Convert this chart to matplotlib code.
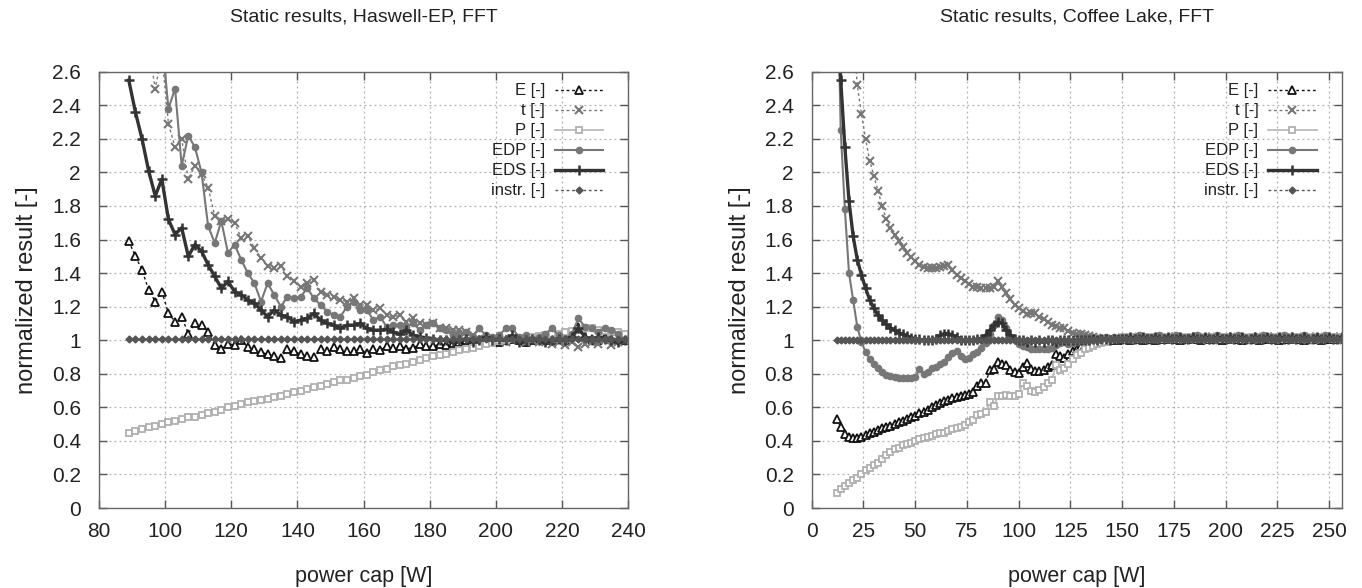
import numpy as np
import matplotlib
matplotlib.use("Agg")
import matplotlib.pyplot as plt

# ---------------- data: left panel (Haswell-EP), power cap 89..239 W, step 2 ----------------
x_left = np.arange(89, 241, 2)

E_left = [1.59, 1.50, 1.42, 1.30, 1.23, 1.29, 1.16, 1.11, 1.14, 1.04,
          1.10, 1.09, 1.05, 0.97, 0.95, 0.98, 0.97, 1.00, 0.96, 0.95,
          0.93, 0.915, 0.905, 0.895, 0.95, 0.935, 0.915, 0.905, 0.90, 0.945,
          0.935, 0.96, 0.945, 0.935, 0.935, 0.945, 0.925, 0.95, 0.94, 0.964,
          0.955, 0.964, 0.95, 0.955, 0.975, 0.965, 0.965, 0.975, 0.97, 0.985,
          0.99, 1.00, 0.99, 1.00, 1.00, 1.00, 0.99, 1.00, 1.01, 1.00,
          0.99, 1.00, 1.01, 1.00, 1.00, 1.01, 1.00, 1.03, 1.08, 1.02,
          1.01, 1.00, 1.02, 1.01, 1.00, 1.00]
t_left = [3.60, 3.30, 3.00, 2.75, 2.50, 2.70, 2.29, 2.15, 2.20, 1.96,
          2.04, 1.99, 1.91, 1.74, 1.71, 1.72, 1.70, 1.61, 1.62, 1.55,
          1.49, 1.44, 1.43, 1.44, 1.38, 1.35, 1.32, 1.34, 1.36, 1.29,
          1.27, 1.26, 1.24, 1.23, 1.25, 1.21, 1.21, 1.18, 1.19, 1.15,
          1.14, 1.15, 1.11, 1.13, 1.10, 1.09, 1.10, 1.07, 1.07, 1.06,
          1.06, 1.05, 1.03, 1.01, 1.00, 1.01, 1.00, 0.99, 1.00, 1.01,
          0.99, 1.00, 0.99, 1.00, 0.98, 0.99, 0.97, 0.99, 0.96, 0.98,
          0.99, 0.98, 1.00, 0.97, 0.99, 1.00]
P_left = [0.45, 0.46, 0.47, 0.48, 0.49, 0.50, 0.51, 0.52, 0.53, 0.54,
          0.545, 0.555, 0.565, 0.575, 0.585, 0.60, 0.61, 0.62, 0.63, 0.64,
          0.645, 0.65, 0.66, 0.67, 0.68, 0.69, 0.70, 0.71, 0.72, 0.73,
          0.74, 0.75, 0.76, 0.765, 0.775, 0.785, 0.795, 0.81, 0.82, 0.83,
          0.845, 0.855, 0.86, 0.87, 0.885, 0.895, 0.905, 0.91, 0.92, 0.93,
          0.94, 0.945, 0.955, 0.965, 0.975, 0.985, 0.995, 1.00, 1.005, 1.01,
          1.015, 1.02, 1.025, 1.03, 1.035, 1.04, 1.05, 1.055, 1.06, 1.07,
          1.07, 1.06, 1.055, 1.05, 1.05, 1.04]
EDP_left = [3.60, 3.40, 3.20, 3.00, 2.90, 2.80, 2.38, 2.50, 2.04, 2.22,
            2.15, 2.00, 1.68, 1.58, 1.71, 1.52, 1.57, 1.48, 1.40, 1.34,
            1.23, 1.34, 1.27, 1.20, 1.26, 1.25, 1.26, 1.31, 1.25, 1.21,
            1.17, 1.15, 1.14, 1.20, 1.23, 1.18, 1.18, 1.12, 1.14, 1.08,
            1.09, 1.09, 1.08, 1.10, 1.06, 1.09, 1.10, 1.07, 1.06, 1.03,
            1.04, 1.05, 1.02, 1.07, 1.03, 1.02, 1.03, 1.07, 1.07, 1.02,
            1.03, 1.01, 1.02, 1.04, 1.07, 1.03, 1.01, 1.04, 1.13, 1.08,
            1.07, 1.05, 1.07, 1.06, 1.04, 1.00]
EDS_left = [2.55, 2.36, 2.20, 2.01, 1.86, 1.96, 1.72, 1.63, 1.67, 1.50,
            1.57, 1.53, 1.45, 1.38, 1.31, 1.35, 1.29, 1.27, 1.24, 1.22,
            1.18, 1.14, 1.18, 1.15, 1.14, 1.11, 1.12, 1.13, 1.16, 1.12,
            1.10, 1.09, 1.07, 1.09, 1.09, 1.10, 1.07, 1.06, 1.06, 1.065,
            1.05, 1.035, 1.06, 1.03, 1.02, 1.015, 1.01, 1.00, 1.00, 0.99,
            1.00, 1.01, 0.99, 1.00, 1.02, 1.00, 1.01, 1.00, 1.03, 0.99,
            1.00, 1.01, 1.00, 0.99, 1.00, 1.01, 1.00, 1.02, 1.07, 1.02,
            1.00, 1.02, 1.01, 1.00, 0.99, 1.00]
instr_left = [1.01, 1.01, 1.01, 1.01, 1.01, 1.01, 1.01, 1.01, 1.01, 1.01,
              1.01, 1.01, 1.01, 1.01, 1.01, 1.01, 1.01, 1.01, 1.01, 1.01,
              1.01, 1.01, 1.01, 1.01, 1.01, 1.01, 1.01, 1.01, 1.01, 1.01,
              1.01, 1.01, 1.01, 1.01, 1.01, 1.01, 1.01, 1.01, 1.01, 1.01,
              1.01, 1.01, 1.01, 1.01, 1.01, 1.01, 1.01, 1.01, 1.01, 1.01,
              1.01, 1.01, 1.01, 1.01, 1.01, 1.01, 1.01, 1.01, 1.01, 1.01,
              1.01, 1.01, 1.01, 1.01, 1.01, 1.01, 1.01, 1.01, 1.01, 1.01,
              1.01, 1.01, 1.01, 1.01, 1.01, 1.01]

# ---------------- data: right panel (Coffee Lake), power cap 12..256 W, step 2 ----------------
x_right = np.arange(12, 258, 2)

E_right = [0.53, 0.48, 0.44, 0.425, 0.42, 0.42, 0.425, 0.435, 0.445, 0.455,
           0.465, 0.475, 0.482, 0.49, 0.50, 0.513, 0.52, 0.53, 0.54, 0.55,
           0.565, 0.575, 0.585, 0.60, 0.612, 0.623, 0.635, 0.645, 0.655, 0.66,
           0.667, 0.675, 0.68, 0.69, 0.73, 0.745, 0.745, 0.82, 0.83, 0.87,
           0.86, 0.85, 0.82, 0.81, 0.805, 0.84, 0.865, 0.83, 0.815, 0.815,
           0.825, 0.84, 0.855, 0.915, 0.905, 0.895, 0.92, 0.935, 0.95, 0.965,
           0.97, 0.98, 0.985, 0.99, 1.00, 1.00, 1.00, 1.01, 1.00, 1.01,
           1.01, 1.00, 1.01, 1.02, 1.00, 1.01, 1.01, 1.00, 1.02, 1.01,
           1.01, 1.02, 1.01, 1.00, 1.01, 1.01, 1.02, 1.01, 1.00, 1.01,
           1.02, 1.01, 1.01, 1.00, 1.01, 1.02, 1.01, 1.01, 1.00, 1.01,
           1.01, 1.02, 1.00, 1.01, 1.01, 1.02, 1.01, 1.00, 1.01, 1.01,
           1.02, 1.01, 1.01, 1.00, 1.01, 1.02, 1.01, 1.00, 1.01, 1.01,
           1.01, 1.02, 1.01]
t_right = [4.60, 4.10, 3.60, 3.20, 2.85, 2.52, 2.35, 2.20, 2.07, 1.98,
           1.89, 1.80, 1.72, 1.67, 1.63, 1.59, 1.555, 1.52, 1.495, 1.475,
           1.45, 1.435, 1.43, 1.43, 1.43, 1.435, 1.44, 1.45, 1.42, 1.39,
           1.37, 1.35, 1.335, 1.32, 1.315, 1.31, 1.31, 1.31, 1.315, 1.355,
           1.32, 1.28, 1.245, 1.21, 1.19, 1.175, 1.155, 1.165, 1.16, 1.14,
           1.125, 1.11, 1.09, 1.085, 1.075, 1.07, 1.055, 1.045, 1.04, 1.035,
           1.03, 1.025, 1.02, 1.015, 1.01, 1.01, 1.005, 1.00, 1.01, 1.00,
           1.01, 1.00, 1.01, 1.02, 1.00, 1.01, 1.01, 1.00, 1.02, 1.01,
           1.00, 1.01, 1.02, 1.01, 1.00, 1.01, 1.01, 1.02, 1.00, 1.01,
           1.01, 1.00, 1.02, 1.01, 1.01, 1.00, 1.01, 1.02, 1.01, 1.00,
           1.01, 1.01, 1.00, 1.02, 1.01, 1.01, 1.00, 1.01, 1.02, 1.01,
           1.00, 1.01, 1.01, 1.02, 1.00, 1.01, 1.01, 1.00, 1.02, 1.01,
           1.01, 1.00, 1.01]
P_right = [0.09, 0.115, 0.13, 0.15, 0.165, 0.18, 0.20, 0.225, 0.24, 0.255,
           0.27, 0.295, 0.315, 0.335, 0.35, 0.36, 0.375, 0.38, 0.39, 0.40,
           0.41, 0.415, 0.425, 0.43, 0.44, 0.445, 0.45, 0.46, 0.47, 0.475,
           0.485, 0.495, 0.51, 0.525, 0.555, 0.56, 0.57, 0.63, 0.61, 0.665,
           0.67, 0.675, 0.67, 0.665, 0.68, 0.745, 0.73, 0.70, 0.69, 0.705,
           0.72, 0.745, 0.765, 0.85, 0.82, 0.835, 0.86, 0.89, 0.91, 0.925,
           0.945, 0.955, 0.965, 0.975, 0.985, 0.99, 1.00, 1.01, 1.01, 1.02,
           1.01, 1.02, 1.02, 1.01, 1.02, 1.02, 1.01, 1.02, 1.02, 1.01,
           1.02, 1.01, 1.02, 1.02, 1.01, 1.02, 1.02, 1.01, 1.02, 1.02,
           1.01, 1.02, 1.02, 1.01, 1.02, 1.02, 1.01, 1.02, 1.02, 1.01,
           1.02, 1.02, 1.01, 1.02, 1.02, 1.01, 1.02, 1.02, 1.01, 1.02,
           1.02, 1.01, 1.02, 1.02, 1.01, 1.02, 1.02, 1.01, 1.02, 1.02,
           1.01, 1.02, 1.02]
EDP_right = [3.40, 2.25, 1.78, 1.40, 1.24, 1.08, 0.99, 0.93, 0.89, 0.86,
             0.835, 0.81, 0.795, 0.785, 0.78, 0.775, 0.775, 0.772, 0.776, 0.78,
             0.83, 0.80, 0.81, 0.835, 0.84, 0.86, 0.87, 0.90, 0.925, 0.935,
             0.905, 0.89, 0.895, 0.915, 0.93, 0.955, 0.985, 1.04, 1.09, 1.14,
             1.12, 1.07, 1.02, 1.00, 0.975, 0.965, 0.96, 0.95, 0.945, 0.945,
             0.945, 0.95, 0.955, 0.97, 0.985, 0.99, 0.98, 0.985, 0.99, 0.995,
             1.00, 1.00, 1.01, 1.00, 1.01, 1.02, 1.01, 1.02, 1.01, 1.02,
             1.02, 1.01, 1.02, 1.03, 1.01, 1.02, 1.02, 1.01, 1.03, 1.02,
             1.01, 1.02, 1.03, 1.02, 1.01, 1.02, 1.02, 1.03, 1.01, 1.02,
             1.02, 1.01, 1.03, 1.02, 1.02, 1.01, 1.02, 1.03, 1.02, 1.01,
             1.02, 1.02, 1.01, 1.03, 1.02, 1.02, 1.01, 1.02, 1.03, 1.02,
             1.01, 1.02, 1.02, 1.03, 1.01, 1.02, 1.02, 1.01, 1.03, 1.02,
             1.02, 1.01, 1.02]
EDS_right = [3.00, 2.55, 2.15, 1.83, 1.62, 1.48, 1.39, 1.31, 1.24, 1.19,
             1.15, 1.12, 1.095, 1.075, 1.06, 1.045, 1.035, 1.025, 1.015, 1.01,
             1.005, 1.00, 1.00, 1.00, 1.01, 1.03, 1.04, 1.04, 1.03, 1.02,
             1.00, 1.00, 1.00, 1.00, 1.01, 1.01, 1.03, 1.06, 1.09, 1.11,
             1.10, 1.06, 1.03, 1.01, 1.00, 1.00, 0.99, 1.00, 0.99, 1.00,
             0.99, 1.00, 1.00, 0.99, 1.00, 1.00, 1.00, 1.00, 1.00, 1.00,
             1.00, 1.00, 1.01, 1.00, 1.01, 1.01, 1.00, 1.01, 1.01, 1.01,
             1.01, 1.02, 1.01, 1.01, 1.02, 1.01, 1.01, 1.02, 1.01, 1.01,
             1.02, 1.01, 1.01, 1.02, 1.01, 1.01, 1.02, 1.01, 1.01, 1.02,
             1.01, 1.01, 1.02, 1.01, 1.01, 1.02, 1.01, 1.01, 1.02, 1.01,
             1.01, 1.02, 1.01, 1.01, 1.02, 1.01, 1.01, 1.02, 1.01, 1.01,
             1.02, 1.01, 1.01, 1.02, 1.01, 1.01, 1.02, 1.01, 1.01, 1.02,
             1.01, 1.01, 1.02]
instr_right = [1.00, 1.00, 1.00, 1.00, 1.00, 1.00, 1.00, 1.00, 1.00, 1.00,
               1.00, 1.00, 1.00, 1.00, 1.00, 1.00, 1.00, 1.00, 1.00, 1.00,
               1.00, 1.00, 1.00, 1.00, 1.00, 1.00, 1.00, 1.00, 1.00, 1.00,
               1.00, 1.00, 1.00, 1.00, 1.00, 1.00, 1.00, 1.00, 1.00, 1.00,
               1.00, 1.00, 1.00, 1.00, 1.00, 1.00, 1.00, 1.00, 1.00, 1.00,
               1.00, 1.00, 1.00, 1.00, 1.00, 1.00, 1.00, 1.00, 1.00, 1.00,
               1.00, 1.00, 1.00, 1.00, 1.01, 1.01, 1.01, 1.01, 1.01, 1.01,
               1.01, 1.01, 1.01, 1.01, 1.01, 1.01, 1.01, 1.01, 1.01, 1.01,
               1.01, 1.01, 1.01, 1.01, 1.01, 1.01, 1.01, 1.01, 1.01, 1.01,
               1.01, 1.01, 1.01, 1.01, 1.01, 1.01, 1.01, 1.01, 1.01, 1.01,
               1.01, 1.01, 1.01, 1.01, 1.01, 1.01, 1.01, 1.01, 1.01, 1.01,
               1.01, 1.01, 1.01, 1.01, 1.01, 1.01, 1.01, 1.01, 1.01, 1.01,
               1.01, 1.01, 1.01]

labels = ["E [-]", "t [-]", "P [-]", "EDP [-]", "EDS [-]", "instr. [-]"]
titles = ["Static results, Haswell-EP, FFT", "Static results, Coffee Lake, FFT"]
yticks = [0, 0.2, 0.4, 0.6, 0.8, 1, 1.2, 1.4, 1.6, 1.8, 2, 2.2, 2.4, 2.6]
xticks_left = [80, 100, 120, 140, 160, 180, 200, 220, 240]
xticks_right = [0, 25, 50, 75, 100, 125, 150, 175, 200, 225, 250]

# ---------------- styling ----------------
plt.rcParams['font.family'] = ['Liberation Sans', 'DejaVu Sans']
TXT = '#222222'

styles = [
    dict(color='#111111', ls=(0, (2, 2)), lw=1.0, marker='^', ms=5.5, mfc='white', mec='#111111', mew=1.3),
    dict(color='#777777', ls=(0, (2, 2)), lw=1.0, marker='x', ms=6, mew=1.5),
    dict(color='#bbbbbb', ls='-', lw=1.3, marker='s', ms=5, mfc='white', mec='#b0b0b0', mew=1.3),
    dict(color='#777777', ls='-', lw=1.5, marker='o', ms=4.5, mfc='#777777', mec='#777777'),
    dict(color='#333333', ls='-', lw=2.4, marker='+', ms=7, mew=1.8),
    dict(color='#555555', ls=(0, (2, 2)), lw=1.0, marker='D', ms=3.5, mfc='#555555', mec='#555555'),
]

fig = plt.figure(figsize=(13.62, 5.88), dpi=100)
ax_l = fig.add_axes([0.0727, 0.136, 0.3884, 0.742])
ax_r = fig.add_axes([0.596, 0.136, 0.389, 0.742])

panels = [
    (ax_l, x_left, [E_left, t_left, P_left, EDP_left, EDS_left, instr_left], (80, 240), xticks_left),
    (ax_r, x_right, [E_right, t_right, P_right, EDP_right, EDS_right, instr_right], (0, 256), xticks_right),
]

for (ax, xs, series, xlim, xticks), title in zip(panels, titles):
    for vals, lab, st in zip(series, labels, styles):
        ax.plot(xs, vals, label=lab, **st)
    ax.set_xlim(*xlim)
    ax.set_ylim(0, 2.6)
    ax.set_xticks(xticks)
    ax.set_yticks(yticks)
    ax.set_yticklabels([f"{v:g}" for v in yticks])
    ax.grid(True, color='#b0b0b0', ls=(0, (1.5, 2.5)), lw=0.9)
    ax.set_axisbelow(True)
    for sp in ax.spines.values():
        sp.set_color('#666666')
        sp.set_linewidth(1.0)
    ax.tick_params(direction='in', top=True, right=True, length=6, width=1.0,
                   color='#555555', labelsize=15, labelcolor=TXT)
    ax.tick_params(axis='y', pad=13)
    ax.tick_params(axis='x', pad=10)
    ax.set_title(title, fontsize=14, color=TXT, pad=36)
    ax.set_xlabel("power cap [W]", fontsize=15.5, color=TXT, labelpad=18)
    ax.set_ylabel("normalized result [-]", fontsize=17, color=TXT, labelpad=10)
    leg = ax.legend(loc='upper right', frameon=False, markerfirst=False, numpoints=1,
                    fontsize=12, handlelength=2.9, handletextpad=0.6, labelspacing=0.3,
                    borderaxespad=0.3, bbox_to_anchor=(0.975, 1.0))
    for t in leg.get_texts():
        t.set_color(TXT)

fig.savefig("out.png", dpi=100)
